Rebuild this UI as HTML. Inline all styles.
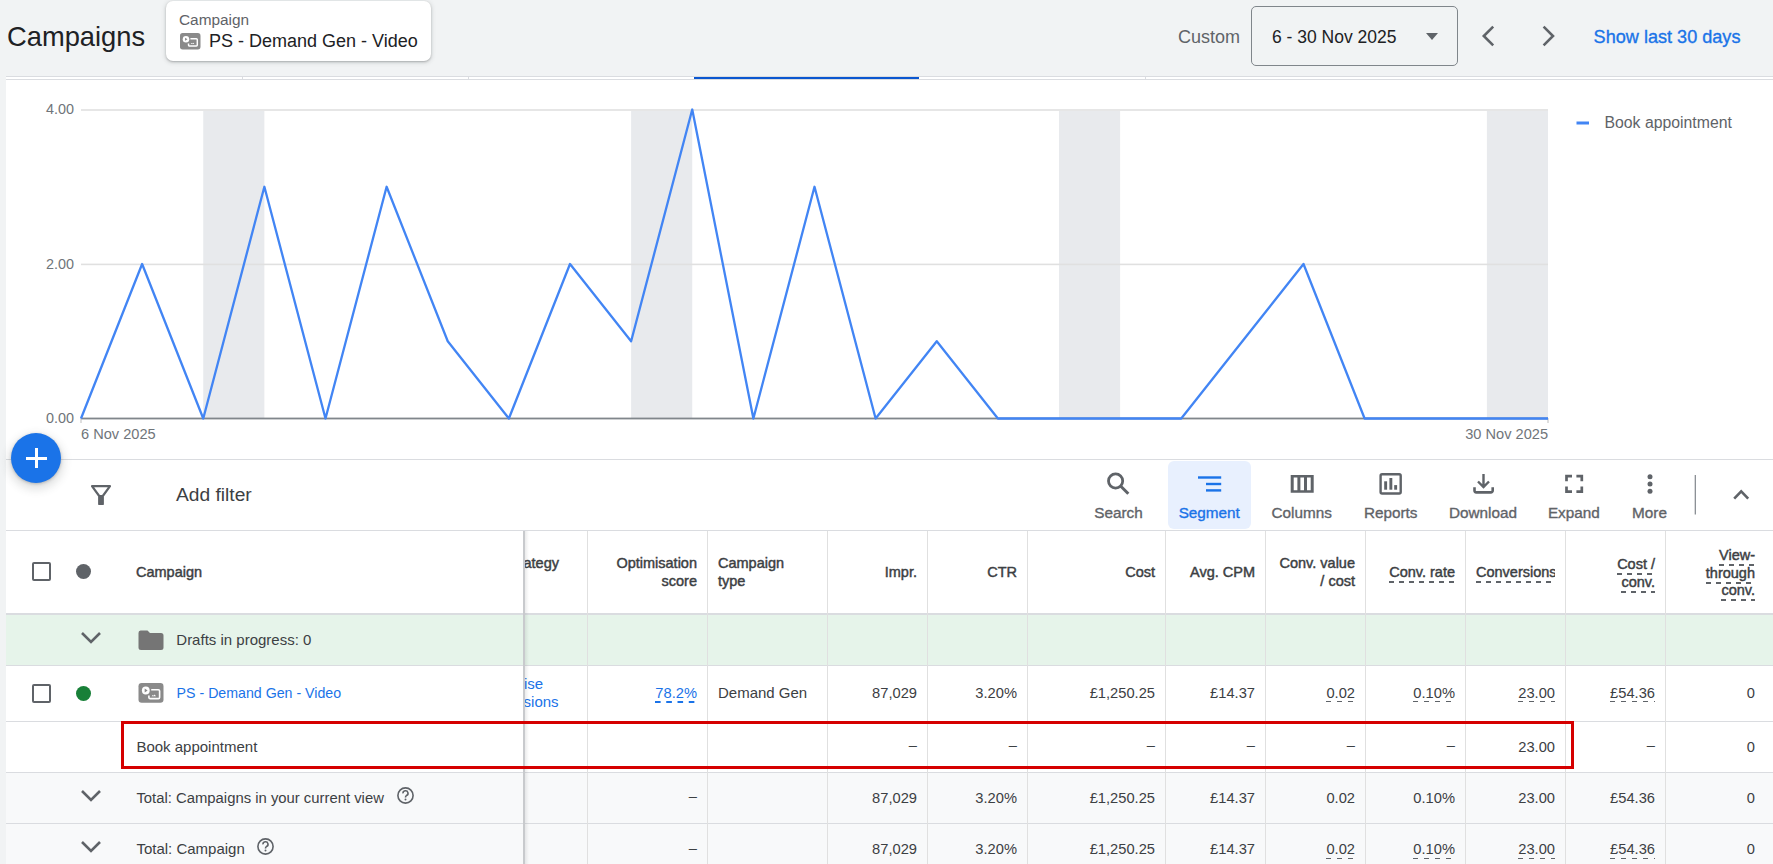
<!DOCTYPE html>
<html><head><meta charset="utf-8">
<style>
*{margin:0;padding:0;box-sizing:border-box}
html,body{width:1773px;height:864px;overflow:hidden;background:#f1f3f4;font-family:"Liberation Sans",sans-serif;color:#3c4043}
.a{position:absolute;white-space:nowrap}
.tb{top:504px;width:100px;text-align:center;font-size:15.3px;line-height:18px;-webkit-text-stroke:0.35px currentColor}
.u{display:inline-block;padding-bottom:2px;background-repeat:repeat-x;background-position:0 100%}
#page{position:relative;width:1773px;height:864px;overflow:hidden}
</style></head><body><div id="page">

<!-- HEADER -->
<div class="a" style="left:7px;top:21px;font-size:27.3px;line-height:32px;color:#202124">Campaigns</div>
<div class="a" style="left:166px;top:1px;width:265px;height:60px;background:#fff;border-radius:7px;box-shadow:0 1px 2px rgba(60,64,67,.3),0 1px 4px 1px rgba(60,64,67,.15)"></div>
<div class="a" style="left:179px;top:11px;font-size:15.4px;line-height:18px;color:#5f6368">Campaign</div>
<div class="a" style="left:209px;top:30px;font-size:18px;line-height:22px;color:#202124">PS - Demand Gen - Video</div>

<svg class="a" style="left:180.2px;top:33.2px" width="20.5" height="16.5" viewBox="0.5 0 25 19.8" preserveAspectRatio="none"><rect x="0.5" y="0" width="25" height="19.8" rx="3.2" fill="#8a8a8a"/><path d="M13.2 6.75 H20.4 A1.2 1.2 0 0 1 21.6 7.95 V14.4 A1.2 1.2 0 0 1 20.4 15.6 H12.1 A1.2 1.2 0 0 1 10.9 14.4 V12.6" fill="none" stroke="#fff" stroke-width="1.8"/><circle cx="7.8" cy="7.5" r="4" fill="#fff"/><path d="M6.7 5.6 V9.4 L9.6 7.5 Z" fill="#8a8a8a"/><path d="M13.6 13.3 L14.7 11.9 L15.6 12.8 L16.6 11.6 L18 13.3 Z" fill="#fff"/></svg>
<svg class="a" style="left:1478px;top:24px" width="80" height="24" viewBox="1478 24 80 24"><path d="M1493.2 26.6 L1483.8 36 L1493.2 45.4" fill="none" stroke="#5f6368" stroke-width="2.6"/><path d="M1543.6 26.6 L1553 36 L1543.6 45.4" fill="none" stroke="#5f6368" stroke-width="2.6"/></svg>
<div class="a" style="left:1178px;top:26px;font-size:18px;line-height:22px;color:#5f6368">Custom</div>
<div class="a" style="left:1251px;top:6px;width:207px;height:60px;border:1px solid #80868b;border-radius:5px"></div>
<div class="a" style="left:1272px;top:26px;font-size:17.5px;line-height:22px;color:#202124">6 - 30 Nov 2025</div>
<div class="a" style="left:1426px;top:33px;width:0;height:0;border-left:6px solid transparent;border-right:6px solid transparent;border-top:7px solid #5f6368"></div>
<div class="a" style="left:1593.6px;top:25.5px;font-size:18.1px;line-height:22px;color:#1a73e8;-webkit-text-stroke:0.35px #1a73e8">Show last 30 days</div>

<!-- scorecard strip -->
<div class="a" style="left:6px;top:76px;width:1767px;height:4px;background:#fff;border-top:1px solid #dadce0;border-bottom:1px solid #dadce0"></div>

<div class="a" style="left:242px;top:77px;width:1px;height:2px;background:#dadce0"></div>
<div class="a" style="left:468px;top:77px;width:1px;height:2px;background:#dadce0"></div>
<div class="a" style="left:1145px;top:77px;width:1px;height:2px;background:#dadce0"></div>
<div class="a" style="left:694px;top:77px;width:225px;height:2.4px;background:#0b57d0"></div>
<!-- chart card -->
<div class="a" style="left:6px;top:80px;width:1767px;height:379px;background:#fff"></div>
<div class="a" style="left:6px;top:459px;width:1767px;height:1px;background:#dadce0"></div>


<!-- CHART -->
<svg class="a" style="left:0;top:0" width="1773" height="460" viewBox="0 0 1773 460">
<rect x="203.25" y="109.5" width="61.12" height="309" fill="#e8eaed"/>
<rect x="631.12" y="109.5" width="61.12" height="309" fill="#e8eaed"/>
<rect x="1059" y="109.5" width="61.12" height="309" fill="#e8eaed"/>
<rect x="1486.88" y="109.5" width="61.12" height="309" fill="#e8eaed"/>
<rect x="81" y="109" width="1467" height="2" fill="#e6e6e6"/>
<rect x="81" y="263.6" width="1467" height="1.6" fill="#e0e0e0"/>
<rect x="81" y="417.6" width="1467" height="1.8" fill="#80868b"/>
<rect x="80.5" y="418" width="1" height="5" fill="#bdbdbd"/>
<rect x="1547.5" y="418" width="1" height="5" fill="#bdbdbd"/>
<polyline fill="none" stroke="#4285f4" stroke-width="2.3" stroke-linejoin="round" points="81.00,418.50 142.12,264.00 203.25,418.50 264.38,186.75 325.50,418.50 386.62,186.75 447.75,341.25 508.88,418.50 570.00,264.00 631.12,341.25 692.25,109.50 753.38,418.50 814.50,186.75 875.62,418.50 936.75,341.25 997.88,418.50 1059.00,418.50 1120.12,418.50 1181.25,418.50 1242.38,341.25 1303.50,264.00 1364.62,418.50 1425.75,418.50 1486.88,418.50 1548.00,418.50"/>
<rect x="1576.5" y="121.5" width="12.5" height="3" fill="#4285f4"/>
</svg>
<div class="a" style="left:46px;top:101px;width:28px;text-align:right;font-size:14.4px;line-height:17px;color:#70757a">4.00</div>
<div class="a" style="left:46px;top:256px;width:28px;text-align:right;font-size:14.4px;line-height:17px;color:#70757a">2.00</div>
<div class="a" style="left:46px;top:410px;width:28px;text-align:right;font-size:14.4px;line-height:17px;color:#70757a">0.00</div>
<div class="a" style="left:81px;top:426px;font-size:14.6px;line-height:17px;color:#70757a">6 Nov 2025</div>
<div class="a" style="left:1448px;top:426px;width:100px;text-align:right;font-size:14.6px;line-height:17px;color:#70757a">30 Nov 2025</div>
<div class="a" style="left:1604.5px;top:113px;font-size:15.8px;line-height:19px;color:#5f6368">Book appointment</div>

<!-- filter bar -->
<div class="a" style="left:6px;top:460px;width:1767px;height:70px;background:#fff"></div>
<div class="a" style="left:6px;top:530px;width:1767px;height:1px;background:#dadce0"></div>


<!-- FAB -->
<div class="a" style="z-index:10;left:11px;top:433px;width:50px;height:50px;border-radius:50%;background:#1a73e8;box-shadow:0 1px 3px rgba(60,64,67,.3),0 4px 8px 3px rgba(60,64,67,.15)"></div>
<div class="a" style="z-index:11;left:25.5px;top:456.5px;width:21.3px;height:3px;background:#fff"></div>
<div class="a" style="z-index:11;left:34.5px;top:448px;width:3px;height:20px;background:#fff"></div>

<!-- filter icon -->
<svg class="a" style="left:91px;top:485px" width="20" height="20" viewBox="0 0 20 20"><path d="M1 1.2 H19 L11.8 11 V19 H8.2 V11 Z" fill="none" stroke="#5f6368" stroke-width="2.2" stroke-linejoin="round"/><rect x="8.2" y="10" width="3.6" height="9.5" fill="#5f6368"/></svg>
<div class="a" style="left:176px;top:484px;font-size:19.2px;line-height:22px;color:#3c4043">Add filter</div>

<!-- toolbar -->
<div class="a" style="left:1168px;top:461px;width:83px;height:68px;background:#e8f0fe;border-radius:6px"></div>
<svg class="a" style="left:1090px;top:460px" width="683" height="70" viewBox="1090 460 683 70">
 <circle cx="1115.6" cy="481" r="7.1" fill="none" stroke="#5f6368" stroke-width="2.8"/>
 <line x1="1120.8" y1="486.2" x2="1128.3" y2="493.7" stroke="#5f6368" stroke-width="3"/>
 <rect x="1198" y="476.3" width="23.2" height="2.4" fill="#1a73e8"/>
 <rect x="1206" y="482.8" width="15.2" height="2.4" fill="#1a73e8"/>
 <rect x="1206" y="489.2" width="15.2" height="2.4" fill="#1a73e8"/>
 <path fill-rule="evenodd" fill="#5f6368" d="M1290.7 474.9 H1313.7 V492.8 H1290.7 Z M1293.7 477.5 V490.2 H1297.4 V477.5 Z M1300.4 477.5 V490.2 H1304 V477.5 Z M1307 477.5 V490.2 H1310.7 V477.5 Z"/>
 <rect x="1380.6" y="474.2" width="20.1" height="19.3" rx="1.5" fill="none" stroke="#5f6368" stroke-width="2.4"/>
 <rect x="1384.2" y="481.3" width="2.9" height="8.4" fill="#5f6368"/>
 <rect x="1389.4" y="478" width="2.9" height="11.7" fill="#5f6368"/>
 <rect x="1394.2" y="485.1" width="2.9" height="4.6" fill="#5f6368"/>
 <path d="M1483.5 474 V486.5 M1478 481.5 L1483.5 487 L1489 481.5" fill="none" stroke="#5f6368" stroke-width="2.4"/>
 <path d="M1474.5 487.3 V490.6 A1.8 1.8 0 0 0 1476.3 492.4 H1490.9 A1.8 1.8 0 0 0 1492.7 490.6 V487.3" fill="none" stroke="#5f6368" stroke-width="2.6"/>
 <path d="M1566.5 481.3 V476.2 H1572 M1576.4 476.2 H1581.8 V481.3 M1581.8 486.6 V491.6 H1576.4 M1572 491.6 H1566.5 V486.6" fill="none" stroke="#5f6368" stroke-width="2.7"/>
 <circle cx="1650" cy="476.8" r="2.5" fill="#5f6368"/>
 <circle cx="1650" cy="484" r="2.5" fill="#5f6368"/>
 <circle cx="1650" cy="491.2" r="2.5" fill="#5f6368"/>
 <rect x="1694.7" y="475" width="1.2" height="39.5" fill="#80868b"/>
 <path d="M1734.2 498.6 L1741.2 491.3 L1748.2 498.6" fill="none" stroke="#5f6368" stroke-width="2.6"/>
</svg>
<div class="a tb" style="left:1068.5px;color:#5f6368">Search</div>
<div class="a tb" style="left:1159.25px;color:#1a73e8">Segment</div>
<div class="a tb" style="left:1251.7px;color:#5f6368">Columns</div>
<div class="a tb" style="left:1340.7px;color:#5f6368">Reports</div>
<div class="a tb" style="left:1433px;color:#5f6368">Download</div>
<div class="a tb" style="left:1523.85px;color:#5f6368">Expand</div>
<div class="a tb" style="left:1599.5px;color:#5f6368">More</div>

<!-- table -->
<div class="a" style="left:6px;top:531px;width:1767px;height:333px;background:#fff"></div>
<div class="a" style="left:6px;top:615px;width:1767px;height:50px;background:#e6f4ea"></div>
<div class="a" style="left:6px;top:773px;width:1767px;height:91px;background:#f8f9fa"></div>
<div class="a" style="left:6px;top:613px;width:1767px;height:2px;background:#dadce0"></div>
<div class="a" style="left:6px;top:665px;width:1767px;height:1px;background:#dadce0"></div>
<div class="a" style="left:6px;top:721px;width:1767px;height:1px;background:#dadce0"></div>
<div class="a" style="left:6px;top:772px;width:1767px;height:1px;background:#dadce0"></div>
<div class="a" style="left:6px;top:823px;width:1767px;height:1px;background:#dadce0"></div>
<div class="a" style="left:587px;top:531px;width:1px;height:333px;background:#e0e0e0"></div>
<div class="a" style="left:707px;top:531px;width:1px;height:333px;background:#e0e0e0"></div>
<div class="a" style="left:827px;top:531px;width:1px;height:333px;background:#e0e0e0"></div>
<div class="a" style="left:927px;top:531px;width:1px;height:333px;background:#e0e0e0"></div>
<div class="a" style="left:1027px;top:531px;width:1px;height:333px;background:#e0e0e0"></div>
<div class="a" style="left:1165px;top:531px;width:1px;height:333px;background:#e0e0e0"></div>
<div class="a" style="left:1265px;top:531px;width:1px;height:333px;background:#e0e0e0"></div>
<div class="a" style="left:1365px;top:531px;width:1px;height:333px;background:#e0e0e0"></div>
<div class="a" style="left:1465px;top:531px;width:1px;height:333px;background:#e0e0e0"></div>
<div class="a" style="left:1565px;top:531px;width:1px;height:333px;background:#e0e0e0"></div>
<div class="a" style="left:1665px;top:531px;width:1px;height:333px;background:#e0e0e0"></div>
<div class="a" style="right:1214.00px;text-align:right;top:553.98px;font-size:14.5px;line-height:18px;color:#3c4043;-webkit-text-stroke:0.45px #3c4043">Bid strategy</div>
<div class="a" style="right:1076.00px;text-align:right;top:553.98px;font-size:14.5px;line-height:18px;color:#3c4043;-webkit-text-stroke:0.45px #3c4043">Optimisation</div>
<div class="a" style="right:1076.00px;text-align:right;top:571.98px;font-size:14.5px;line-height:18px;color:#3c4043;-webkit-text-stroke:0.45px #3c4043">score</div>
<div class="a" style="left:718.00px;top:553.98px;font-size:14.5px;line-height:18px;color:#3c4043;-webkit-text-stroke:0.45px #3c4043">Campaign</div>
<div class="a" style="left:718.00px;top:571.98px;font-size:14.5px;line-height:18px;color:#3c4043;-webkit-text-stroke:0.45px #3c4043">type</div>
<div class="a" style="right:856.00px;text-align:right;top:562.98px;font-size:14.5px;line-height:18px;color:#3c4043;-webkit-text-stroke:0.45px #3c4043">Impr.</div>
<div class="a" style="right:756.00px;text-align:right;top:562.98px;font-size:14.5px;line-height:18px;color:#3c4043;-webkit-text-stroke:0.45px #3c4043">CTR</div>
<div class="a" style="right:618.00px;text-align:right;top:562.98px;font-size:14.5px;line-height:18px;color:#3c4043;-webkit-text-stroke:0.45px #3c4043">Cost</div>
<div class="a" style="right:518.00px;text-align:right;top:562.98px;font-size:14.5px;line-height:18px;color:#3c4043;-webkit-text-stroke:0.45px #3c4043">Avg. CPM</div>
<div class="a" style="right:418.00px;text-align:right;top:553.98px;font-size:14.5px;line-height:18px;color:#3c4043;-webkit-text-stroke:0.45px #3c4043">Conv. value</div>
<div class="a" style="right:418.00px;text-align:right;top:571.98px;font-size:14.5px;line-height:18px;color:#3c4043;-webkit-text-stroke:0.45px #3c4043">/ cost</div>
<div class="a" style="right:318.00px;text-align:right;top:562.98px;font-size:14.5px;line-height:18px;color:#3c4043;-webkit-text-stroke:0.45px #3c4043"><span class="u" style="padding-bottom:2px;background-image:linear-gradient(to right,#5f6368 50%,transparent 50%);background-size:10px 2px">Conv. rate</span></div>
<div class="a" style="left:1476px;top:560px;width:79px;height:26px;overflow:hidden"><div class="a" style="left:0.00px;top:2.98px;font-size:14.5px;line-height:18px;color:#3c4043;-webkit-text-stroke:0.45px #3c4043"><span class="u" style="padding-bottom:2px;background-image:linear-gradient(to right,#5f6368 50%,transparent 50%);background-size:10px 2px">Conversions</span></div></div>
<div class="a" style="right:118.00px;text-align:right;top:554.98px;font-size:14.5px;line-height:18px;color:#3c4043;-webkit-text-stroke:0.45px #3c4043"><span class="u" style="padding-bottom:2px;background-image:linear-gradient(to right,#5f6368 50%,transparent 50%);background-size:10px 2px">Cost /</span></div>
<div class="a" style="right:118.00px;text-align:right;top:572.98px;font-size:14.5px;line-height:18px;color:#3c4043;-webkit-text-stroke:0.45px #3c4043"><span class="u" style="padding-bottom:2px;background-image:linear-gradient(to right,#5f6368 50%,transparent 50%);background-size:10px 2px">conv.</span></div>
<div class="a" style="right:18.00px;text-align:right;top:545.98px;font-size:14.5px;line-height:18px;color:#3c4043;-webkit-text-stroke:0.45px #3c4043"><span class="u" style="padding-bottom:2px;background-image:linear-gradient(to right,#5f6368 50%,transparent 50%);background-size:10px 2px">View-</span></div>
<div class="a" style="right:18.00px;text-align:right;top:563.58px;font-size:14.5px;line-height:18px;color:#3c4043;-webkit-text-stroke:0.45px #3c4043"><span class="u" style="padding-bottom:2px;background-image:linear-gradient(to right,#5f6368 50%,transparent 50%);background-size:10px 2px">through</span></div>
<div class="a" style="right:18.00px;text-align:right;top:581.28px;font-size:14.5px;line-height:18px;color:#3c4043;-webkit-text-stroke:0.45px #3c4043"><span class="u" style="padding-bottom:2px;background-image:linear-gradient(to right,#5f6368 50%,transparent 50%);background-size:10px 2px">conv.</span></div>
<div class="a" style="right:1229.80px;text-align:right;top:674.60px;font-size:15px;line-height:18px;color:#1a73e8">Maximise</div>
<div class="a" style="right:1214.40px;text-align:right;top:692.60px;font-size:15px;line-height:18px;color:#1a73e8">conversions</div>
<div class="a" style="right:1076.00px;text-align:right;top:683.91px;font-size:14.7px;line-height:18px;color:#1a73e8"><span class="u" style="padding-bottom:1px;background-image:linear-gradient(to right,#1a73e8 50%,transparent 50%);background-size:11.25px 1.6px">78.2%</span></div>
<div class="a" style="left:718.00px;top:683.80px;font-size:15px;line-height:18px;color:#3c4043">Demand Gen</div>
<div class="a" style="right:856.00px;text-align:right;top:683.91px;font-size:14.7px;line-height:18px;color:#3c4043">87,029</div>
<div class="a" style="right:756.00px;text-align:right;top:683.91px;font-size:14.7px;line-height:18px;color:#3c4043">3.20%</div>
<div class="a" style="right:618.00px;text-align:right;top:683.91px;font-size:14.7px;line-height:18px;color:#3c4043">£1,250.25</div>
<div class="a" style="right:518.00px;text-align:right;top:683.91px;font-size:14.7px;line-height:18px;color:#3c4043">£14.37</div>
<div class="a" style="right:418.00px;text-align:right;top:683.91px;font-size:14.7px;line-height:18px;color:#3c4043"><span class="u" style="padding-bottom:0.3px;background-image:linear-gradient(to right,#5f6368 50%,transparent 50%);background-size:11px 1px">0.02</span></div>
<div class="a" style="right:318.00px;text-align:right;top:683.91px;font-size:14.7px;line-height:18px;color:#3c4043"><span class="u" style="padding-bottom:0.3px;background-image:linear-gradient(to right,#5f6368 50%,transparent 50%);background-size:11px 1px">0.10%</span></div>
<div class="a" style="right:218.00px;text-align:right;top:683.91px;font-size:14.7px;line-height:18px;color:#3c4043"><span class="u" style="padding-bottom:0.3px;background-image:linear-gradient(to right,#5f6368 50%,transparent 50%);background-size:11px 1px">23.00</span></div>
<div class="a" style="right:118.00px;text-align:right;top:683.91px;font-size:14.7px;line-height:18px;color:#3c4043"><span class="u" style="padding-bottom:0.3px;background-image:linear-gradient(to right,#5f6368 50%,transparent 50%);background-size:11px 1px">£54.36</span></div>
<div class="a" style="right:18.00px;text-align:right;top:683.91px;font-size:14.7px;line-height:18px;color:#3c4043">0</div>
<div class="a" style="right:856.00px;text-align:right;top:736.41px;font-size:14.7px;line-height:18px;color:#3c4043">–</div>
<div class="a" style="right:756.00px;text-align:right;top:736.41px;font-size:14.7px;line-height:18px;color:#3c4043">–</div>
<div class="a" style="right:618.00px;text-align:right;top:736.41px;font-size:14.7px;line-height:18px;color:#3c4043">–</div>
<div class="a" style="right:518.00px;text-align:right;top:736.41px;font-size:14.7px;line-height:18px;color:#3c4043">–</div>
<div class="a" style="right:418.00px;text-align:right;top:736.41px;font-size:14.7px;line-height:18px;color:#3c4043">–</div>
<div class="a" style="right:318.00px;text-align:right;top:736.41px;font-size:14.7px;line-height:18px;color:#3c4043">–</div>
<div class="a" style="right:118.00px;text-align:right;top:736.41px;font-size:14.7px;line-height:18px;color:#3c4043">–</div>
<div class="a" style="right:218.00px;text-align:right;top:737.91px;font-size:14.7px;line-height:18px;color:#3c4043">23.00</div>
<div class="a" style="right:18.00px;text-align:right;top:737.91px;font-size:14.7px;line-height:18px;color:#3c4043">0</div>
<div class="a" style="right:1076.00px;text-align:right;top:787.41px;font-size:14.7px;line-height:18px;color:#3c4043">–</div>
<div class="a" style="right:1076.00px;text-align:right;top:838.81px;font-size:14.7px;line-height:18px;color:#3c4043">–</div>
<div class="a" style="right:856.00px;text-align:right;top:788.91px;font-size:14.7px;line-height:18px;color:#3c4043">87,029</div>
<div class="a" style="right:856.00px;text-align:right;top:840.31px;font-size:14.7px;line-height:18px;color:#3c4043">87,029</div>
<div class="a" style="right:756.00px;text-align:right;top:788.91px;font-size:14.7px;line-height:18px;color:#3c4043">3.20%</div>
<div class="a" style="right:756.00px;text-align:right;top:840.31px;font-size:14.7px;line-height:18px;color:#3c4043">3.20%</div>
<div class="a" style="right:618.00px;text-align:right;top:788.91px;font-size:14.7px;line-height:18px;color:#3c4043">£1,250.25</div>
<div class="a" style="right:618.00px;text-align:right;top:840.31px;font-size:14.7px;line-height:18px;color:#3c4043">£1,250.25</div>
<div class="a" style="right:518.00px;text-align:right;top:788.91px;font-size:14.7px;line-height:18px;color:#3c4043">£14.37</div>
<div class="a" style="right:518.00px;text-align:right;top:840.31px;font-size:14.7px;line-height:18px;color:#3c4043">£14.37</div>
<div class="a" style="right:418.00px;text-align:right;top:788.91px;font-size:14.7px;line-height:18px;color:#3c4043">0.02</div>
<div class="a" style="right:418.00px;text-align:right;top:840.31px;font-size:14.7px;line-height:18px;color:#3c4043"><span class="u" style="padding-bottom:0.3px;background-image:linear-gradient(to right,#5f6368 50%,transparent 50%);background-size:11px 1px">0.02</span></div>
<div class="a" style="right:318.00px;text-align:right;top:788.91px;font-size:14.7px;line-height:18px;color:#3c4043">0.10%</div>
<div class="a" style="right:318.00px;text-align:right;top:840.31px;font-size:14.7px;line-height:18px;color:#3c4043"><span class="u" style="padding-bottom:0.3px;background-image:linear-gradient(to right,#5f6368 50%,transparent 50%);background-size:11px 1px">0.10%</span></div>
<div class="a" style="right:218.00px;text-align:right;top:788.91px;font-size:14.7px;line-height:18px;color:#3c4043">23.00</div>
<div class="a" style="right:218.00px;text-align:right;top:840.31px;font-size:14.7px;line-height:18px;color:#3c4043"><span class="u" style="padding-bottom:0.3px;background-image:linear-gradient(to right,#5f6368 50%,transparent 50%);background-size:11px 1px">23.00</span></div>
<div class="a" style="right:118.00px;text-align:right;top:788.91px;font-size:14.7px;line-height:18px;color:#3c4043">£54.36</div>
<div class="a" style="right:118.00px;text-align:right;top:840.31px;font-size:14.7px;line-height:18px;color:#3c4043"><span class="u" style="padding-bottom:0.3px;background-image:linear-gradient(to right,#5f6368 50%,transparent 50%);background-size:11px 1px">£54.36</span></div>
<div class="a" style="right:18.00px;text-align:right;top:788.91px;font-size:14.7px;line-height:18px;color:#3c4043">0</div>
<div class="a" style="right:18.00px;text-align:right;top:840.31px;font-size:14.7px;line-height:18px;color:#3c4043">0</div>
<!-- sticky -->
<div class="a" style="left:6px;top:531px;width:517px;height:82px;background:#fff"></div>
<div class="a" style="left:6px;top:615px;width:517px;height:50px;background:#e6f4ea"></div>
<div class="a" style="left:6px;top:666px;width:517px;height:55px;background:#fff"></div>
<div class="a" style="left:6px;top:722px;width:517px;height:50px;background:#fff"></div>
<div class="a" style="left:6px;top:773px;width:517px;height:50px;background:#f8f9fa"></div>
<div class="a" style="left:6px;top:824px;width:517px;height:40px;background:#f8f9fa"></div>
<div class="a" style="left:523px;top:531px;width:1.5px;height:333px;background:#c8cacd"></div>
<div class="a" style="left:524.5px;top:531px;width:4px;height:333px;background:linear-gradient(to right,rgba(60,64,67,.10),rgba(60,64,67,0))"></div>
<div class="a" style="left:32px;top:562px;width:19px;height:19px;border:2px solid #5f6368;border-radius:2px"></div>
<div class="a" style="left:76px;top:564px;width:15px;height:15px;border-radius:50%;background:#5f6368"></div>
<div class="a" style="left:136.00px;top:562.98px;font-size:14.5px;line-height:18px;color:#3c4043;-webkit-text-stroke:0.45px #3c4043">Campaign</div>
<svg class="a" style="left:80px;top:630px" width="22" height="16" viewBox="0 0 22 16"><path d="M2 3 L11 12 L20 3" fill="none" stroke="#5f6368" stroke-width="2.6"/></svg>
<svg class="a" style="left:138px;top:630px" width="26" height="21" viewBox="0 0 26 21"><path d="M2.5 0.5 H9.5 L12 3 H23 A2.5 2.5 0 0 1 25.5 5.5 V17.5 A2.5 2.5 0 0 1 23 20 H3 A2.5 2.5 0 0 1 0.5 17.5 V3 A2.5 2.5 0 0 1 2.5 0.5 Z" fill="#757575"/></svg>
<div class="a" style="left:176.30px;top:631.20px;font-size:15px;line-height:18px;color:#3c4043">Drafts in progress: 0</div>
<div class="a" style="left:32px;top:684px;width:19px;height:19px;border:2px solid #5f6368;border-radius:2px"></div>
<div class="a" style="left:76px;top:686px;width:15px;height:15px;border-radius:50%;background:#188038"></div>
<svg class="a" style="left:138px;top:683px" width="26" height="21" viewBox="0 0 26 21"><rect x="0.5" y="0" width="25" height="19.8" rx="3.2" fill="#8a8a8a"/><path d="M13.2 6.75 H20.4 A1.2 1.2 0 0 1 21.6 7.95 V14.4 A1.2 1.2 0 0 1 20.4 15.6 H12.1 A1.2 1.2 0 0 1 10.9 14.4 V12.6" fill="none" stroke="#fff" stroke-width="1.6"/><circle cx="7.8" cy="7.5" r="3.9" fill="#fff"/><path d="M6.7 5.6 V9.4 L9.6 7.5 Z" fill="#8a8a8a"/><path d="M13.6 13.3 L14.7 11.9 L15.6 12.8 L16.6 11.6 L18 13.3 Z" fill="#fff"/></svg>
<div class="a" style="left:176.60px;top:683.68px;font-size:14.2px;line-height:18px;color:#1a73e8">PS - Demand Gen - Video</div>
<div class="a" style="left:136.40px;top:737.80px;font-size:15px;line-height:18px;color:#3c4043">Book appointment</div>
<svg class="a" style="left:80px;top:788px" width="22" height="16" viewBox="0 0 22 16"><path d="M2 3 L11 12 L20 3" fill="none" stroke="#5f6368" stroke-width="2.6"/></svg>
<div class="a" style="left:136.40px;top:788.85px;font-size:14.85px;line-height:18px;color:#3c4043">Total: Campaigns in your current view</div>
<svg class="a" style="left:396px;top:786.4px" width="19" height="19" viewBox="0 0 19 19"><circle cx="9.5" cy="9.5" r="7.6" fill="none" stroke="#5f6368" stroke-width="1.6"/><path d="M7 7.4 A2.5 2.5 0 1 1 10.4 9.6 C9.7 10 9.5 10.5 9.5 11.5" fill="none" stroke="#5f6368" stroke-width="1.6"/><circle cx="9.5" cy="13.6" r="1" fill="#5f6368"/></svg>
<svg class="a" style="left:80px;top:839px" width="22" height="16" viewBox="0 0 22 16"><path d="M2 3 L11 12 L20 3" fill="none" stroke="#5f6368" stroke-width="2.6"/></svg>
<div class="a" style="left:136.40px;top:840.20px;font-size:15px;line-height:18px;color:#3c4043">Total: Campaign</div>
<svg class="a" style="left:256px;top:837.4px" width="19" height="19" viewBox="0 0 19 19"><circle cx="9.5" cy="9.5" r="7.6" fill="none" stroke="#5f6368" stroke-width="1.6"/><path d="M7 7.4 A2.5 2.5 0 1 1 10.4 9.6 C9.7 10 9.5 10.5 9.5 11.5" fill="none" stroke="#5f6368" stroke-width="1.6"/><circle cx="9.5" cy="13.6" r="1" fill="#5f6368"/></svg>
<div class="a" style="left:121px;top:720.5px;width:1453px;height:48.5px;border:3px solid #d50000"></div>
<!-- /table -->
</div></body></html>
